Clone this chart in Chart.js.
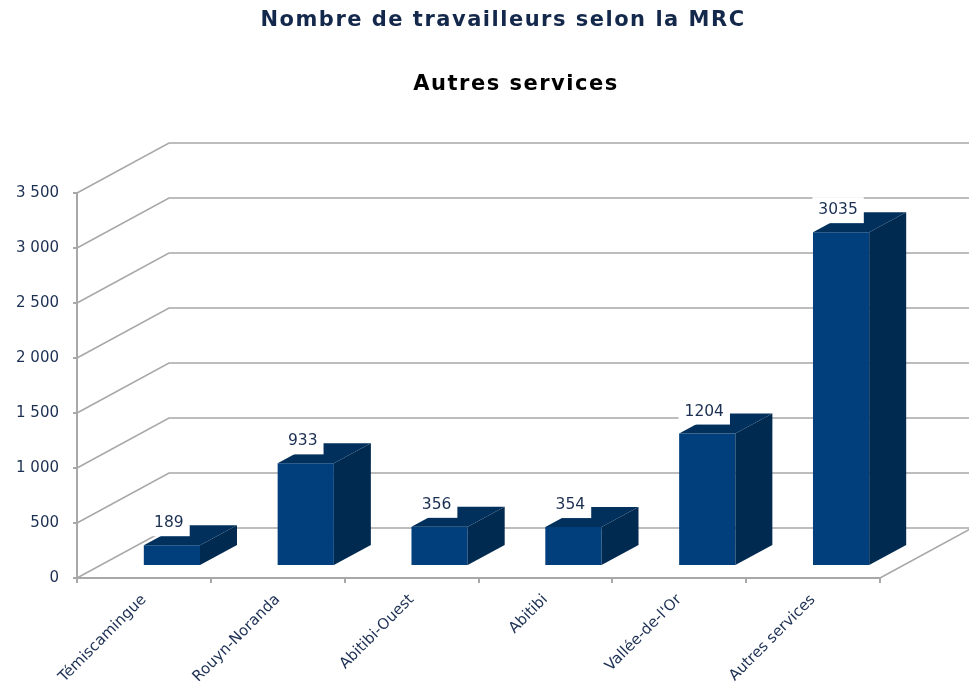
<!DOCTYPE html>
<html>
<head>
<meta charset="utf-8">
<script src="https://cdn.jsdelivr.net/npm/chart.js@4/dist/chart.umd.min.js"></script>
<style>
  html, body { margin: 0; padding: 0; background: #fff; }
  #wrap { width: 969px; height: 687px; position: relative; }
</style>
</head>
<body>
<div id="wrap"><canvas id="mrcChart"></canvas></div>
<script>
// data
const categories = ["Témiscamingue", "Rouyn-Noranda", "Abitibi-Ouest", "Abitibi", "Vallée-de-l'Or", "Autres services"];
const workers = [189, 933, 356, 354, 1204, 3035];
const yTicks = [0, 500, 1000, 1500, 2000, 2500, 3000, 3500];
const titleText = "Nombre de travailleurs selon la MRC";
const subtitleText = "Autres services";

const navy = "#1b2f52";
const gridGray = "#a8a8a8";

// 3d look
const WALL_DX = 92, WALL_DY = 50;   // back wall offset
const BAR_DX = 28, BAR_DY = 12;     // bar front face offset
const BAR_DEPTH_X = 37, BAR_DEPTH_Y = 20;

function fmt(v) {
    return String(v).replace(/\B(?=(\d{3})+(?!\d))/g, " ");
}

const threeD = {
    id: "threeD",
    beforeDatasetsDraw(chart) {
        const ctx = chart.ctx;
        const y = chart.scales.y;
        const area = chart.chartArea;
        ctx.save();
        ctx.strokeStyle = gridGray;
        ctx.lineWidth = 1.5;
        yTicks.forEach(v => {
            const py = y.getPixelForValue(v);
            ctx.beginPath();
            ctx.moveTo(area.left, py);
            ctx.lineTo(area.left + WALL_DX, py - WALL_DY);
            ctx.lineTo(chart.width + 5, py - WALL_DY);
            ctx.stroke();
        });
        // floor right edge
        ctx.beginPath();
        ctx.moveTo(area.right, area.bottom);
        ctx.lineTo(area.right + WALL_DX, area.bottom - WALL_DY);
        ctx.stroke();
        ctx.restore();

        ctx.save();
        ctx.translate(BAR_DX, -BAR_DY);
    },
    afterDatasetsDraw(chart) {
        const ctx = chart.ctx;
        ctx.restore();
        const bars = chart.getDatasetMeta(0).data;
        bars.forEach((bar, i) => {
            const left = bar.x - bar.width / 2 + BAR_DX;
            const right = bar.x + bar.width / 2 + BAR_DX;
            const top = bar.y - BAR_DY;
            const bottom = bar.base - BAR_DY;
            // side
            ctx.fillStyle = "#012a50";
            ctx.beginPath();
            ctx.moveTo(right, top);
            ctx.lineTo(right + BAR_DEPTH_X, top - BAR_DEPTH_Y);
            ctx.lineTo(right + BAR_DEPTH_X, bottom - BAR_DEPTH_Y);
            ctx.lineTo(right, bottom);
            ctx.closePath();
            ctx.fill();
            // top
            ctx.fillStyle = "#02305c";
            ctx.beginPath();
            ctx.moveTo(left, top);
            ctx.lineTo(left + BAR_DEPTH_X, top - BAR_DEPTH_Y);
            ctx.lineTo(right + BAR_DEPTH_X, top - BAR_DEPTH_Y);
            ctx.lineTo(right, top);
            ctx.closePath();
            ctx.fill();

            // value label with white box
            const txt = String(workers[i]);
            ctx.font = "15.5px 'DejaVu Sans'";
            const w = ctx.measureText(txt).width + 12;
            const cx = (left + right) / 2 - 3;
            const cy = top - 22;
            ctx.fillStyle = "#ffffff";
            ctx.fillRect(cx - w / 2, cy - 13, w, 26);
            ctx.fillStyle = navy;
            ctx.textAlign = "center";
            ctx.textBaseline = "middle";
            ctx.fillText(txt, cx, cy);
        });
    },
    afterDraw(chart) {
        const ctx = chart.ctx;
        ctx.save();
        ctx.textAlign = "center";
        ctx.textBaseline = "middle";
        ctx.font = "bold 21px 'DejaVu Sans'";
        ctx.letterSpacing = "1.5px";
        ctx.fillStyle = "#14284b";
        ctx.fillText(titleText, 503, 21);
        ctx.fillStyle = "#000000";
        ctx.fillText(subtitleText, 516, 85);
        ctx.restore();
    }
};

new Chart(document.getElementById("mrcChart"), {
    type: "bar",
    data: {
        labels: categories,
        datasets: [{
            label: "Travailleurs",
            data: workers,
            backgroundColor: "#003e7c",
            borderWidth: 0,
            barPercentage: 1,
            categoryPercentage: 0.42,
            clip: false
        }]
    },
    options: {
        responsive: true,
        maintainAspectRatio: false,
        animation: false,
        layout: {padding: {top: 193, right: 89, bottom: 0, left: 0}},
        plugins: {
            legend: {display: false},
            tooltip: {enabled: false}
        },
        scales: {
            x: {
                grid: {display: true, drawOnChartArea: false, tickLength: 5, color: gridGray, lineWidth: 2},
                border: {display: true, color: gridGray, width: 2},
                ticks: {
                    color: navy,
                    font: {family: "DejaVu Sans", size: 15},
                    minRotation: 45,
                    maxRotation: 45,
                    autoSkip: false,
                    padding: 8
                },
                afterFit: s => { s.height = 109; }
            },
            y: {
                min: 0,
                max: 3500,
                afterBuildTicks: s => { s.ticks = yTicks.map(v => ({value: v})); },
                grid: {display: true, drawOnChartArea: false, tickLength: 4, color: gridGray, lineWidth: 2},
                border: {display: true, color: gridGray, width: 2},
                ticks: {
                    color: navy,
                    font: {family: "DejaVu Sans", size: 15},
                    padding: 14,
                    callback: v => fmt(v)
                },
                afterFit: s => { s.width = 77; }
            }
        }
    },
    plugins: [threeD]
});
</script>
</body>
</html>
